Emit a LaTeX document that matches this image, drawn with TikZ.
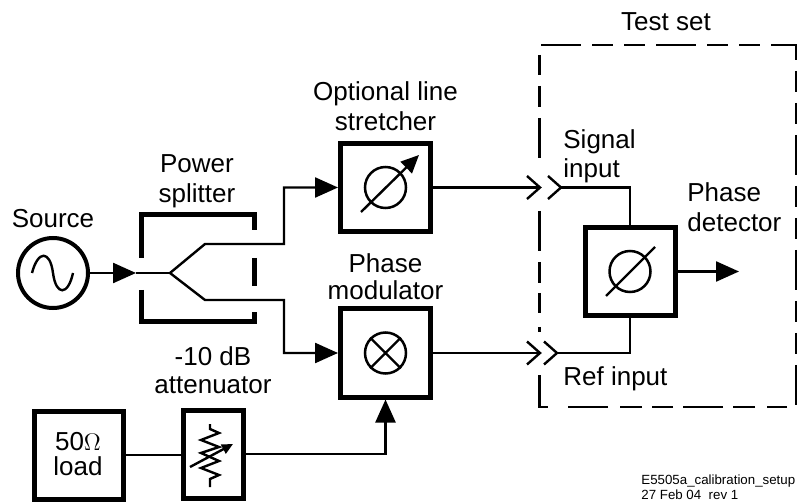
\documentclass[tikz,border=0pt]{standalone}
\usepackage{fontspec}
\setmainfont{Liberation Sans}
\usepackage{amsmath}
\usetikzlibrary{arrows,arrows.meta}

\begin{document}
\begin{tikzpicture}[
x=0.5pt,y=-0.5pt,
lbl/.style={font=\fontsize{13}{15}\selectfont,inner sep=0pt,align=center},
lblleft/.style={font=\fontsize{13}{15}\selectfont,inner sep=0pt,align=left},
smalllbl/.style={font=\fontsize{6.65}{7.5}\selectfont,inner sep=0pt,align=left},
block/.style={draw,line width=2.5pt,minimum width=45pt,minimum height=44pt,inner sep=0pt},
dial/.style={draw,circle,line width=1.25pt,minimum size=20.5pt,inner sep=0pt},
wire/.style={line width=1.2pt},
feed/.style={-{Triangle[length=11.5pt,width=10pt]},line width=1.2pt},
dialarrow/.style={-{Triangle[length=9pt,width=8pt]},line width=1.2pt},
resarrow/.style={-{Triangle[length=5.5pt,width=5pt]},line width=1.2pt},
heavy/.style={line width=2.5pt},
testbox/.style={line width=1.3pt},
testdash/.style={line width=1.3pt,dash pattern=on 20pt off 5.5pt on 10.5pt off 5.5pt on 10.5pt off 5.5pt} ]

\useasboundingbox (0,0) rectangle (798,502);

% blocks
\node[draw,circle,line width=2pt,minimum size=35pt,inner sep=0pt](source) at (53,273) {};
\node[block](stretcher) at (385.5,187.5) {};
\node[block](modulator) at (385.5,353) {};
\node[block](detector) at (630,271.5) {};
\node[block,minimum width=44.5pt](load) at (79,455) {};
\node[block,minimum width=30pt](attenuator) at (213.5,454) {};

\node[dial](stretcherdial) at (385.5,187.5) {};
\node[dial](modulatordial) at (385.5,353) {};
\node[dial](detectordial) at (630,271.5) {};

% labels
\node[lbl,anchor=base](sourcelbl) at (53,228) {Source};
\node[lbl](splitterlbl) at (197,181) {Power\\splitter};
\node[lbl](stretcherlbl) at (385.5,106) {Optional line\\stretcher};
\node[lbl](modulatorlbl) at (385.5,277) {Phase\\[-1.5pt]modulator};
\node[lbl](attenuatorlbl) at (213,370.5) {-10 dB\\[-1pt]attenuator};
\node[lbl](loadlbl) at (78,454.5) {50$\Omega$\\[-2.5pt]load};
\node[lbl,anchor=base](testlbl) at (666,31) {Test set};
\node[lblleft,anchor=west](signallbl) at (563,156.5) {Signal\\[-0.5pt]input};
\node[lblleft,anchor=west](detectorlbl) at (687,207) {Phase\\detector};
\node[lblleft,anchor=base west](reflbl) at (563,386) {Ref input};
\node[smalllbl,anchor=west](filelbl) at (641,487) {E5505a\_calibration\_setup\\27 Feb 04\ \ rev 1};

\coordinate (tip) at (136,273);
\coordinate (fork) at (170,273);
\coordinate (upa) at (205,244);
\coordinate (upb) at (284,187.5);
\coordinate (downa) at (205,300);
\coordinate (downb) at (284,353);
\coordinate (sigplug) at (540,187.5);
\coordinate (sigjack) at (561,187.5);
\coordinate (refplug) at (540,353);
\coordinate (refjack) at (557,353);
\coordinate (detout) at (739,271.5);

% connectors
\draw[feed] (source.east) -- (tip);
\draw[wire] (tip) -- (fork);
\draw[feed] (fork) -- (upa) -| (upb) -- (stretcher.west);
\draw[feed] (fork) -- (downa) -| (downb) -- (modulator.west);
\draw[wire] (stretcher.east) -- (sigplug);
\draw[wire] (modulator.east) -- (refplug);
\draw[wire] (sigjack) -| (detector.north);
\draw[wire] (refjack) -| (detector.south);
\draw[feed] (detector.east) -- (detout);
\draw[wire] (load.east) -- (load.east -| attenuator.west);
\draw[feed] (attenuator.east) -| (modulator.south);

% jacks
\foreach \x/\y in {540/187.5,561/187.5,540/353,557/353}
  \draw[wire] (\x-13,\y-11.5) -- (\x,\y) -- (\x-13,\y+11.5);

% splitter
\draw[heavy] (141,258) -- (141,215) -- (254,215) -- (254,230);
\draw[heavy] (141,290) -- (141,322) -- (254,322) -- (254,312);
\draw[heavy] (254,258) -- (254,286);

% test set outline
\draw[testdash] (541,45) -- (796,45) -- (796,405);
\draw[testbox] (539.5,55) -- (539.5,75) (539.5,86) -- (539.5,107) (539.5,118) -- (539.5,158)
  (539.5,211) -- (539.5,251) (539.5,262) -- (539.5,283) (539.5,293) -- (539.5,313)
  (539.5,327) -- (539.5,332) (539.5,375) -- (539.5,407) -- (548,407);
\draw[testbox] (787,407) -- (767,407) (755,407) -- (733,407) (723,407) -- (683,407)
  (673,407) -- (652,407) (642,407) -- (620,407) (608,407) -- (568,407);

% symbols
\draw[wire] (32,273) .. controls (38,250) and (50,250) .. (53,273) .. controls (56,296) and (68,296) .. (73,273);
\draw[dialarrow] (361,212) -- (419,155);
\draw[wire] (modulatordial.45) -- (modulatordial.225) (modulatordial.135) -- (modulatordial.315);
\draw[wire] (606,296) -- (655,247);
\draw[wire] (210,424) -- (210,429) -- (219,433) -- (201,440) -- (219,447) -- (201,453) -- (219,461) -- (201,468) -- (219,475) -- (210,479) -- (210,487);
\draw[resarrow] (190,467) -- (233,444);
\end{tikzpicture}
\end{document}
